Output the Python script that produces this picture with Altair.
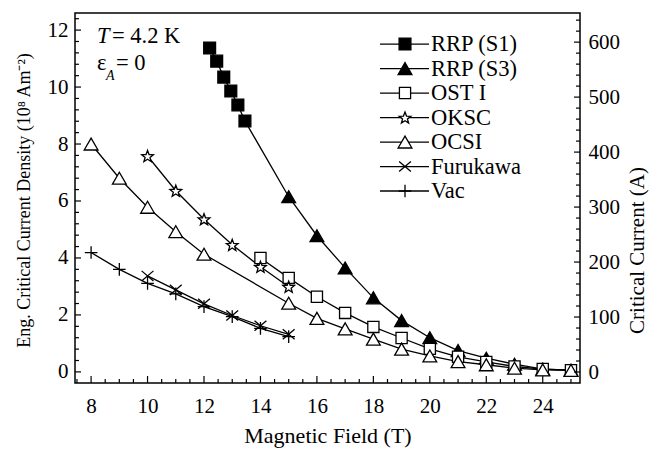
import math
import altair as alt
import pandas as pd

# ---------------- data ----------------
field_s1 = [12.2, 12.45, 12.7, 12.95, 13.2, 13.45]
jc_s1 = [11.37, 10.91, 10.35, 9.86, 9.37, 8.81]

field_s3 = [15, 16, 17, 18, 19, 20, 21, 22, 23, 24, 25]
jc_s3 = [6.15, 4.78, 3.65, 2.6, 1.8, 1.2, 0.75, 0.48, 0.27, 0.1, 0.06]

field_ost = [14, 15, 16, 17, 18, 19, 20, 21, 22, 23, 24, 25]
jc_ost = [4.0, 3.3, 2.64, 2.07, 1.58, 1.19, 0.81, 0.53, 0.35, 0.19, 0.1, 0.06]

field_oksc = [10, 11, 12, 13, 14, 15]
jc_oksc = [7.58, 6.36, 5.36, 4.46, 3.69, 2.99]

field_ocsi = [8, 9, 10, 11, 12, 15, 16, 17, 18, 19, 20, 21, 22, 23, 24, 25]
jc_ocsi = [8.0, 6.8, 5.78, 4.92, 4.13, 2.41, 1.88, 1.51, 1.15, 0.8, 0.56, 0.36, 0.25, 0.13, 0.07, 0.05]

field_furukawa = [10, 11, 12, 13, 14, 15]
jc_furukawa = [3.37, 2.88, 2.39, 1.98, 1.62, 1.32]

field_vac = [8, 9, 10, 11, 12, 13, 14, 15]
jc_vac = [4.19, 3.6, 3.11, 2.74, 2.29, 1.94, 1.53, 1.24]

series_names = ["RRP (S1)", "RRP (S3)", "OST I", "OKSC", "OCSI", "Furukawa", "Vac"]

x_tick_labels = [8, 10, 12, 14, 16, 18, 20, 22, 24]
y_tick_labels = [0, 2, 4, 6, 8, 10, 12]
i_tick_labels = [0, 100, 200, 300, 400, 500, 600]

# ---------------- layout ----------------
W, H = 505, 370
XDOM = [7.43, 25.32]
YDOM = [-0.39, 12.6]
IDOM = [-20, 653]
FONT = "'Liberation Serif', 'Times New Roman', Times, serif"
LW = 1.3

xs = alt.Scale(domain=XDOM, nice=False, zero=False)
ys = alt.Scale(domain=YDOM, nice=False, zero=False)
iscale = alt.Scale(domain=IDOM, nice=False, zero=False)

x_axis = alt.Axis(values=x_tick_labels, ticks=False, tickSize=0, domain=False,
                  labelPadding=12, title="Magnetic Field (T)", titlePadding=9, titleFontSize=22)
y_axis = alt.Axis(values=y_tick_labels, ticks=False, tickSize=0, domain=False,
                  labelPadding=7, title="Eng. Critical Current Density (10\u2078 Am\u207b\u00b2)",
                  titlePadding=14, titleFontSize=18, titleAlign="center", titleY=187)


def X(field="x"):
    return alt.X(f"{field}:Q", scale=xs, axis=x_axis)


def Y(field="y"):
    return alt.Y(f"{field}:Q", scale=ys, axis=y_axis)


# marker shapes
star_pts = []
for k in range(10):
    r = 1.0 if k % 2 == 0 else 0.42
    a = math.pi / 2 + k * math.pi / 5
    star_pts.append((r * math.cos(a), -r * math.sin(a) + 0.1))
star_path = "M" + "L".join(f"{px:.3f},{py:.3f}" for px, py in star_pts) + "Z"
x_path = "M-1,-0.85L1,0.85M-1,0.85L1,-0.85"
plus_path = "M-1,0L1,0M0,-1L0,1"

styles = {
    "RRP (S1)": dict(shape="square", fill="black", size=140),
    "RRP (S3)": dict(shape="triangle-up", fill="black", size=190),
    "OST I": dict(shape="square", fill="white", size=125),
    "OKSC": dict(shape=star_path, fill="white", size=150),
    "OCSI": dict(shape="triangle-up", fill="white", size=190),
    "Furukawa": dict(shape=x_path, fill="white", size=140),
    "Vac": dict(shape=plus_path, fill="white", size=160),
}

series_data = {
    "RRP (S1)": (field_s1, jc_s1),
    "RRP (S3)": (field_s3, jc_s3),
    "OST I": (field_ost, jc_ost),
    "OKSC": (field_oksc, jc_oksc),
    "OCSI": (field_ocsi, jc_ocsi),
    "Furukawa": (field_furukawa, jc_furukawa),
    "Vac": (field_vac, jc_vac),
}

layers = []

# lines
for name in series_names:
    fx, fy = series_data[name]
    fx, fy = list(fx), list(fy)
    if name == "RRP (S1)":
        # the RRP curve continues from the last S1 point to the S3 data
        fx = fx + [field_s3[0]]
        fy = fy + [jc_s3[0]]
    df = pd.DataFrame({"x": fx, "y": fy})
    layers.append(alt.Chart(df).mark_line(color="black", strokeWidth=LW).encode(x=X(), y=Y()))

# markers
for name in series_names:
    fx, fy = series_data[name]
    df = pd.DataFrame({"x": fx, "y": fy})
    st = styles[name]
    layers.append(
        alt.Chart(df).mark_point(shape=st["shape"], size=st["size"], filled=True, fill=st["fill"],
                                 stroke="black", strokeWidth=LW, opacity=1)
        .encode(x=X(), y=Y())
    )

# legend (built by hand: line through symbol, then label)
leg_top, leg_step = 11.51, 0.86
for i, name in enumerate(series_names):
    yrow = leg_top - i * leg_step
    dfl = pd.DataFrame({"y": [yrow], "label": [name]})
    st = styles[name]
    layers.append(alt.Chart(dfl).mark_rule(color="black", strokeWidth=LW)
                  .encode(x=alt.value(305), x2=alt.value(354), y=Y()))
    layers.append(alt.Chart(dfl).mark_point(shape=st["shape"], size=st["size"], filled=True,
                                            fill=st["fill"], stroke="black", strokeWidth=LW, opacity=1)
                  .encode(x=alt.value(330), y=Y()))
    layers.append(alt.Chart(dfl).mark_text(align="left", baseline="middle", font=FONT, fontSize=22.5,
                                           color="black")
                  .encode(x=alt.value(356), y=Y(), text="label:N"))

# annotations
one = pd.DataFrame({"a": [0]})
layers.append(alt.Chart(one).mark_text(text="T", fontStyle="italic", font=FONT, fontSize=22.5,
                                       align="left", baseline="alphabetic", color="black")
              .encode(x=alt.value(22), y=alt.value(30)))
layers.append(alt.Chart(one).mark_text(text="= 4.2 K", font=FONT, fontSize=22.5,
                                       align="left", baseline="alphabetic", color="black")
              .encode(x=alt.value(37), y=alt.value(30)))
layers.append(alt.Chart(one).mark_text(text="\u03b5", font=FONT, fontSize=22.5,
                                       align="left", baseline="alphabetic", color="black")
              .encode(x=alt.value(22), y=alt.value(57)))
layers.append(alt.Chart(one).mark_text(text="A", fontStyle="italic", font=FONT, fontSize=14,
                                       align="left", baseline="alphabetic", color="black")
              .encode(x=alt.value(31), y=alt.value(67)))
layers.append(alt.Chart(one).mark_text(text="= 0", font=FONT, fontSize=22.5,
                                       align="left", baseline="alphabetic", color="black")
              .encode(x=alt.value(41), y=alt.value(57)))

# inward ticks: bottom and left
xt = [7.5 + 0.5 * k for k in range(36)]
xt_major = pd.DataFrame({"x": [v for v in xt if abs(v % 2) < 1e-9]})
xt_minor = pd.DataFrame({"x": [v for v in xt if abs(v % 2) > 1e-9]})
yt = [round(0.4 * k, 2) for k in range(0, 32)]
yt_major = pd.DataFrame({"y": [v for v in yt if abs(v % 2) < 1e-9 or abs(v % 2 - 2) < 1e-9]})
yt_minor = pd.DataFrame({"y": [v for v in yt if not (abs(v % 2) < 1e-9 or abs(v % 2 - 2) < 1e-9)]})

layers.append(alt.Chart(xt_major).mark_rule(color="black", strokeWidth=1.2)
              .encode(x=X(), y=alt.value(H), y2=alt.value(H - 7)))
layers.append(alt.Chart(xt_minor).mark_rule(color="black", strokeWidth=1.2)
              .encode(x=X(), y=alt.value(H), y2=alt.value(H - 4)))
layers.append(alt.Chart(yt_major).mark_rule(color="black", strokeWidth=1.2)
              .encode(y=Y(), x=alt.value(0), x2=alt.value(6)))
layers.append(alt.Chart(yt_minor).mark_rule(color="black", strokeWidth=1.2)
              .encode(y=Y(), x=alt.value(0), x2=alt.value(4)))

main = alt.layer(*layers)

# right axis (critical current, A)
i_axis = alt.Axis(orient="right", values=i_tick_labels, ticks=False, tickSize=0, domain=False,
                  labelPadding=8, title="Critical Current (A)", titleAngle=270, titlePadding=28,
                  titleAlign="center", titleY=237, titleFontSize=21)
it = [20 * k for k in range(0, 33)]
it_major = pd.DataFrame({"i": [v for v in it if v % 100 == 0]})
it_minor = pd.DataFrame({"i": [v for v in it if v % 100 != 0]})
right = alt.layer(
    alt.Chart(it_major).mark_rule(color="black", strokeWidth=1.2)
    .encode(y=alt.Y("i:Q", scale=iscale, axis=i_axis), x=alt.value(W), x2=alt.value(W - 6)),
    alt.Chart(it_minor).mark_rule(color="black", strokeWidth=1.2)
    .encode(y=alt.Y("i:Q", scale=iscale, axis=i_axis), x=alt.value(W), x2=alt.value(W - 4)),
)

chart = (
    alt.layer(main, right)
    .resolve_scale(y="independent")
    .properties(width=W, height=H, autosize=alt.AutoSizeParams(type="none"),
                padding={"left": 75, "top": 13, "right": 70, "bottom": 68}, background="white")
    .configure_view(stroke="black", strokeWidth=1.5)
    .configure_axis(labelFont=FONT, labelFontSize=21, labelColor="black", titleFont=FONT,
                    titleFontSize=20, titleFontWeight="normal", titleColor="black", grid=False)
)

chart.save("out.html", embed_options={"renderer": "svg", "actions": False})
